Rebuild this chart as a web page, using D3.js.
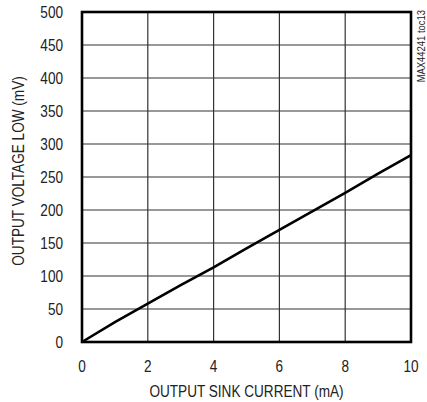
<!DOCTYPE html>
<html><head><meta charset="utf-8">
<script src="https://cdn.jsdelivr.net/npm/d3@7"></script>
<style>body{margin:0;background:#fff}text{font-family:"Liberation Sans",Arial,sans-serif;fill:#222}</style>
</head><body><svg id="c" width="427" height="402"></svg>
<script>
const currentMA = [0,1,2,3,4,5,6,7,8,9,10];
const voltageMV = [0,30,58,86,113,142,170,198,226,255,283];
const xTicks = [0,2,4,6,8,10];
const yTicks = [0,50,100,150,200,250,300,350,400,450,500];
const xTitle = "OUTPUT SINK CURRENT (mA)";
const yTitle = "OUTPUT VOLTAGE LOW (mV)";
const tag = "MAX44241 toc13";

const svg = d3.select("#c");
const L=82,R=411,T=12,B=342, SX=0.8;
const x = d3.scaleLinear().domain([0,10]).range([L,R]);
const y = d3.scaleLinear().domain([0,500]).range([B,T]);

const g = svg.append("g");
g.selectAll(".vg").data(xTicks.slice(1,-1)).join("line")
  .attr("x1",d=>x(d)).attr("x2",d=>x(d)).attr("y1",T).attr("y2",B)
  .attr("stroke","#333").attr("stroke-width",1.2);
g.selectAll(".hg").data(yTicks.slice(1,-1)).join("line")
  .attr("y1",d=>y(d)).attr("y2",d=>y(d)).attr("x1",L).attr("x2",R)
  .attr("stroke","#333").attr("stroke-width",1.2);

svg.append("path").datum(currentMA.map((c,i)=>[c,voltageMV[i]]))
  .attr("d",d3.line().x(d=>x(d[0])).y(d=>y(d[1])))
  .attr("fill","none").attr("stroke","#000").attr("stroke-width",2.6);

svg.append("rect").attr("x",L).attr("y",T).attr("width",R-L).attr("height",B-T)
  .attr("fill","none").attr("stroke","#000").attr("stroke-width",2.6);

svg.selectAll(".xt").data(xTicks).join("text")
  .attr("transform",d=>`translate(${x(d)},372) scale(${SX},1)`).attr("text-anchor","middle")
  .attr("font-size",17).text(d=>d);
svg.selectAll(".yt").data(yTicks).join("text")
  .attr("transform",d=>`translate(63,${y(d)+6}) scale(${SX},1)`).attr("text-anchor","end")
  .attr("font-size",17).text(d=>d);

svg.append("text").attr("transform",`translate(${(L+R)/2},397) scale(${SX},1)`).attr("text-anchor","middle")
  .attr("font-size",17).text(xTitle);
svg.append("text").attr("transform",`translate(24,171) rotate(-90) scale(${SX},1)`)
  .attr("text-anchor","middle").attr("font-size",17).text(yTitle);
svg.append("text").attr("transform",`translate(425,10) rotate(-90) scale(${SX},1)`)
  .attr("text-anchor","end").attr("font-size",11.8).text(tag);
</script></body></html>
